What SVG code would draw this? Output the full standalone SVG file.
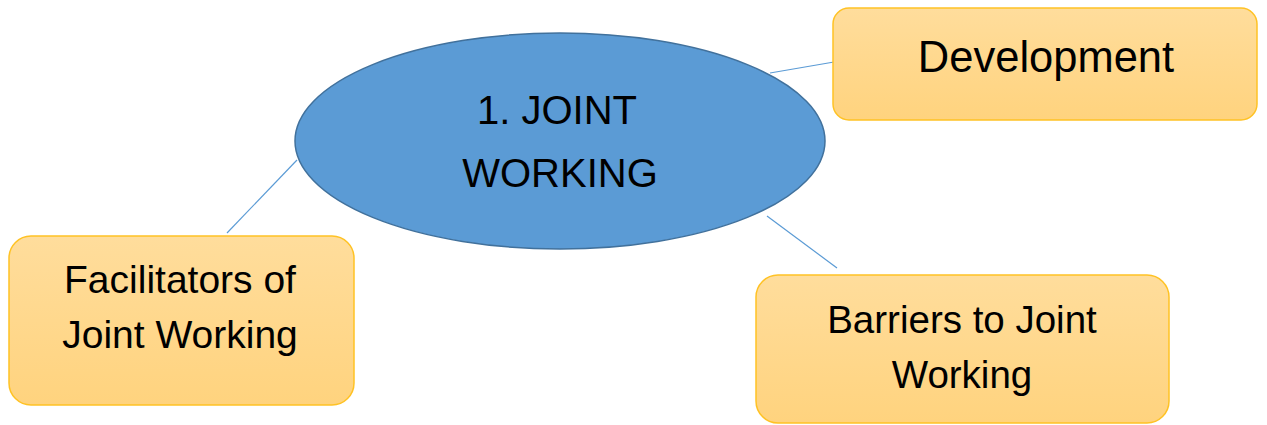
<svg xmlns="http://www.w3.org/2000/svg" width="1267" height="425" viewBox="0 0 1267 425">
<defs>
<linearGradient id="boxGrad" x1="0" y1="0" x2="0" y2="1">
<stop offset="0" stop-color="#FFDD9C"/>
<stop offset="1" stop-color="#FFD37E"/>
</linearGradient>
</defs>
<style>
.box{fill:url(#boxGrad);stroke:#FFC224;stroke-width:1.5}
.t{font-family:"Liberation Sans",Arial,sans-serif;fill:#000;text-anchor:middle}
.conn line{stroke:#5B9BD5;stroke-width:1.2}
</style>
<rect width="1267" height="425" fill="#fff"/>
<g id="connectors" class="conn">
<line x1="770" y1="73" x2="834" y2="62"/>
<line x1="297" y1="160" x2="227" y2="233"/>
<line x1="767" y1="216" x2="837" y2="268"/>
</g>
<g id="center">
<ellipse cx="560" cy="141" rx="265" ry="108" fill="#5B9BD5" stroke="#41719C" stroke-width="1.5"/>
<text class="t" x="557" y="124" font-size="40">1. JOINT</text>
<text class="t" x="560" y="187" font-size="40">WORKING</text>
</g>
<g id="development">
<rect class="box" x="833" y="8" width="424" height="112" rx="16"/>
<text class="t" x="1046" y="72" font-size="43.5">Development</text>
</g>
<g id="facilitators">
<rect class="box" x="9" y="236" width="345" height="169" rx="22"/>
<text class="t" x="180" y="293" font-size="39">Facilitators of</text>
<text class="t" x="180" y="348" font-size="39">Joint Working</text>
</g>
<g id="barriers">
<rect class="box" x="756" y="275" width="413" height="148" rx="22"/>
<text class="t" x="962" y="333" font-size="38.5">Barriers to Joint</text>
<text class="t" x="962" y="388" font-size="38.5">Working</text>
</g>
</svg>
